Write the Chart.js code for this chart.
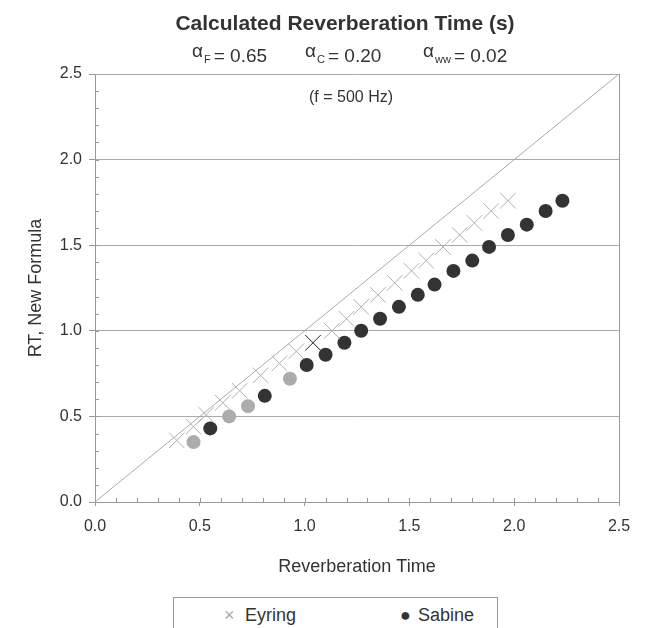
<!DOCTYPE html>
<html>
<head>
<meta charset="utf-8">
<script src="https://cdn.jsdelivr.net/npm/chart.js@4.4.1/dist/chart.umd.min.js"></script>
<style>
  body { margin: 0; background: #fff; }
  #wrap {
    position: relative;
    width: 645px;
    height: 628px;
    overflow: hidden;
    font-family: "Liberation Sans", Arial, sans-serif;
    color: #333;
  }
  #wrap canvas { position: absolute; left: 0; top: 0; }
  .txt { position: absolute; white-space: nowrap; line-height: 1; }
  .title { left: 345px; top: 12px; transform: translateX(-50%); font-size: 21px; font-weight: bold; }
  .coef { top: 46px; font-size: 19px; }
  .coef .a { font-size: 19px; position: relative; top: -5px; }
  .coef .s { font-size: 11px; position: relative; top: 1px; margin: 0 3px 0 1px; }
  .freq { left: 351px; top: 89px; transform: translateX(-50%); font-size: 16px; }
  .legend {
    position: absolute; left: 173px; top: 597px; width: 323px; height: 60px;
    border: 1px solid #999; background: #fff;
  }
  .legend span { position: absolute; top: 8px; font-size: 18px; line-height: 1; }
</style>
</head>
<body>
<div id="wrap">
  <canvas id="chart" width="645" height="628"></canvas>
  <div class="txt title">Calculated Reverberation Time (s)</div>
  <div class="txt coef" style="left:192px"><span class="a">α</span><span class="s">F</span>= 0.65</div>
  <div class="txt coef" style="left:305px"><span class="a">α</span><span class="s">C</span>= 0.20</div>
  <div class="txt coef" style="left:423px"><span class="a">α</span><span class="s">ww</span>= 0.02</div>
  <div class="txt freq">(f = 500 Hz)</div>
  <div class="legend">
    <span style="left:50px;color:#aaa">×</span>
    <span style="left:71px">Eyring</span>
    <span style="left:226px;color:#333">●</span>
    <span style="left:244px">Sabine</span>
  </div>
</div>
<script>
// values
const eyringX = [0.39, 0.47, 0.53, 0.61, 0.69, 0.79, 0.88, 0.96, 1.04, 1.13, 1.20,
                 1.27, 1.35, 1.43, 1.51, 1.58, 1.66, 1.74, 1.81, 1.89, 1.97];
const eyringY = [0.36, 0.44, 0.51, 0.58, 0.65, 0.74, 0.81, 0.88, 0.93, 1.00, 1.07,
                 1.14, 1.21, 1.28, 1.35, 1.41, 1.49, 1.56, 1.63, 1.70, 1.76];
const eyringDarkIdx = [8];

const sabineX = [0.47, 0.55, 0.64, 0.73, 0.81, 0.93, 1.01, 1.10, 1.19, 1.27, 1.36,
                 1.45, 1.54, 1.62, 1.71, 1.80, 1.88, 1.97, 2.06, 2.15, 2.23];
const sabineY = [0.35, 0.43, 0.50, 0.56, 0.62, 0.72, 0.80, 0.86, 0.93, 1.00, 1.07,
                 1.14, 1.21, 1.27, 1.35, 1.41, 1.49, 1.56, 1.62, 1.70, 1.76];
const sabineLightIdx = [0, 2, 3, 5];

const equalityLine = [0, 2.5];
const axisMin = 0, axisMax = 2.5, majorStep = 0.5, minorStep = 0.1;

const toPoints = (xs, ys) => xs.map((x, i) => ({ x: x, y: ys[i] }));

const GRID = '#aaaaaa';
const AXIS = '#999999';

// small inward ticks every 0.1 and the right frame edge
const frameTicks = {
  id: 'frameTicks',
  afterDraw(chart) {
    const { ctx, chartArea: a, scales: { x, y } } = chart;
    ctx.save();
    ctx.strokeStyle = AXIS;
    ctx.lineWidth = 1;
    ctx.beginPath();
    const n = Math.round((axisMax - axisMin) / minorStep);
    for (let i = 1; i < n; i++) {
      const v = axisMin + i * minorStep;
      const px = Math.round(x.getPixelForValue(v)) + 0.5;
      const py = Math.round(y.getPixelForValue(v)) + 0.5;
      ctx.moveTo(px, a.bottom); ctx.lineTo(px, a.bottom - 4);
      ctx.moveTo(a.left, py); ctx.lineTo(a.left + 4, py);
    }
    ctx.moveTo(Math.round(a.right) + 0.5, a.top);
    ctx.lineTo(Math.round(a.right) + 0.5, a.bottom + 3);
    ctx.stroke();
    ctx.restore();
  }
};

const tickFont = { family: '"Liberation Sans", Arial, sans-serif', size: 16 };
const titleFont = { family: '"Liberation Sans", Arial, sans-serif', size: 18 };

new Chart(document.getElementById('chart'), {
  type: 'scatter',
  data: {
    datasets: [
      {
        label: 'Eyring',
        data: toPoints(eyringX, eyringY),
        pointStyle: 'crossRot',
        pointRadius: 11,
        pointBorderWidth: 1,
        pointBorderColor: eyringX.map((_, i) => eyringDarkIdx.includes(i) ? '#222' : '#b0b0b0'),
        showLine: false
      },
      {
        label: 'Sabine',
        data: toPoints(sabineX, sabineY),
        pointStyle: 'circle',
        pointRadius: 7,
        pointBorderWidth: 0,
        pointBackgroundColor: sabineX.map((_, i) => sabineLightIdx.includes(i) ? '#acacac' : '#333333'),
        showLine: false
      },
      {
        label: 'RT = RT',
        data: toPoints(equalityLine, equalityLine),
        showLine: true,
        borderColor: GRID,
        borderWidth: 1,
        pointRadius: 0
      }
    ]
  },
  options: {
    responsive: false,
    animation: false,
    devicePixelRatio: 1,
    layout: { padding: { top: 74, right: 26, left: 0, bottom: 0 } },
    plugins: {
      legend: { display: false },
      tooltip: { enabled: false }
    },
    scales: {
      x: {
        type: 'linear',
        min: axisMin, max: axisMax,
        afterFit: s => { s.height = 126; },
        border: { color: AXIS },
        grid: { drawOnChartArea: false, tickLength: 4, tickColor: AXIS },
        ticks: {
          stepSize: majorStep, padding: 11, color: '#333', font: tickFont,
          callback: v => v.toFixed(1)
        },
        title: {
          display: true, text: 'Reverberation Time', color: '#333', font: titleFont,
          padding: { top: 0, bottom: 50 }
        }
      },
      y: {
        type: 'linear',
        min: axisMin, max: axisMax,
        afterFit: s => { s.width = 95; },
        border: { color: AXIS },
        grid: { color: GRID, tickLength: 6, tickColor: AXIS },
        ticks: {
          stepSize: majorStep, padding: 7, color: '#333', font: tickFont,
          callback: v => v.toFixed(1)
        },
        title: {
          display: true, text: 'RT, New Formula', color: '#333', font: titleFont,
          padding: { top: 25, bottom: 0 }
        }
      }
    }
  },
  plugins: [frameTicks]
});
</script>
</body>
</html>
